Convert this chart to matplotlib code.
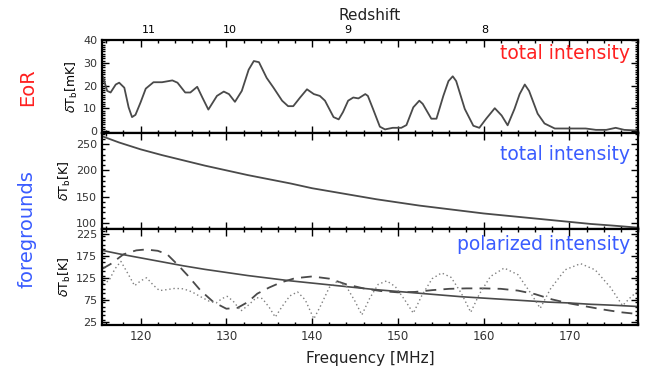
import numpy as np
import matplotlib.pyplot as plt
from matplotlib.ticker import MultipleLocator

plt.rcParams['font.family'] = ['DejaVu Sans']

# --- EoR signal (top panel) ---
eor_freq = [115.6, 116.1, 116.5, 117.1, 117.5, 118.1, 118.6, 119.0, 119.4, 120.0,
            120.6, 121.5, 122.5, 123.7, 124.3, 125.2, 125.8, 126.6, 127.2, 127.9,
            128.9, 129.7, 130.3, 131.0, 131.8, 132.6, 133.2, 133.8, 134.7, 135.5,
            136.5, 137.2, 137.8, 138.6, 139.4, 140.2, 140.9, 141.5, 142.5, 143.1,
            143.6, 144.2, 144.8, 145.4, 146.2, 146.5, 147.1, 147.9, 148.5, 149.4,
            150.4, 151.0, 151.8, 152.5, 152.9, 153.9, 154.5, 155.3, 155.9, 156.4,
            156.8, 157.8, 158.8, 159.5, 160.3, 161.3, 162.1, 162.8, 163.6, 164.2,
            164.8, 165.3, 166.3, 167.1, 168.3, 171.9, 173.1, 174.3, 175.4, 176.4, 178.0]
eor_dtb = [24.0, 17.7, 17.0, 20.5, 21.3, 19.1, 10.5, 6.2, 7.2, 12.7,
           18.7, 21.5, 21.5, 22.3, 21.3, 17.0, 17.0, 19.5, 14.8, 9.5,
           15.5, 17.4, 16.3, 12.9, 17.7, 27.0, 30.8, 30.3, 23.4, 19.1,
           13.4, 11.0, 11.0, 14.8, 18.4, 16.3, 15.5, 13.4, 6.2, 5.2,
           8.4, 13.4, 14.8, 14.4, 16.3, 15.5, 9.8, 2.0, 0.8, 1.5,
           1.5, 2.7, 10.5, 13.4, 12.0, 5.5, 5.5, 15.5, 22.0, 24.1,
           22.0, 9.8, 2.4, 1.5, 5.5, 10.1, 6.9, 2.6, 9.8, 16.3,
           20.5, 17.7, 7.7, 3.4, 1.2, 1.2, 0.6, 0.6, 1.5, 0.6, 0.3]

# --- foregrounds, total intensity (middle panel) ---
fg_freq = [115.5, 117.5, 120, 122.5, 125, 127.5, 130, 132.5, 135, 137.5, 140,
           142.5, 145, 147.5, 150, 152.5, 155, 157.5, 160, 162.5, 165, 167.5,
           170, 172.5, 175, 178]
fg_tot = [265, 253, 240, 229, 219, 209, 200, 191, 183, 175, 166,
          159, 152, 145, 139, 133, 128, 123, 118, 114, 110, 106,
          102, 98, 95, 91]

# --- foregrounds, polarized intensity (bottom panel) ---
pol_solid = [187, 179, 170, 161, 152, 144, 137, 130, 124, 118, 113,
             108, 103, 98, 94, 90, 86, 82, 79, 76, 73, 70,
             68, 65, 63, 60]

dash_freq = [115.5, 116.5, 118.0, 119.5, 120.6, 122.0, 123.1, 124.4, 125.5, 127.0,
             128.5, 130.0, 131.3, 132.5, 133.6, 135.0, 136.3, 138.0, 140.0, 142.0,
             144.0, 146.0, 148.0, 150.0, 152.0, 154.0, 156.0, 158.0, 160.0, 162.0,
             164.0, 166.0, 168.0, 170.0, 172.0, 174.0, 176.0, 178.0]
dash_val = [145, 156, 178, 187, 189, 186, 178, 153, 130, 96,
            70, 55, 57, 70, 89, 103, 114, 124, 128, 123,
            110, 101, 95, 92, 93, 97, 100, 101, 101, 100,
            96, 88, 76, 67, 60, 53, 47, 43]

dot_freq = [115.6, 116.3, 117.0, 117.7, 118.5, 119.3, 120.0, 120.7, 121.5, 122.2,
            123.0, 124.0, 125.0, 126.0, 127.0, 128.0, 128.8, 129.5, 130.1, 130.8,
            131.7, 132.5, 133.5, 134.2, 135.0, 135.7, 136.5, 137.4, 138.3, 139.2,
            140.2, 141.0, 142.0, 143.0, 144.0, 145.0, 145.8, 146.7, 147.7, 148.7,
            149.7, 150.8, 151.8, 152.8, 154.0, 155.1, 156.2, 157.4, 158.5, 159.5,
            160.8, 162.4, 164.0, 165.5, 166.6, 167.8, 169.5, 171.3, 173.0, 174.8,
            176.2, 177.2, 178.0]
dot_val = [112, 118, 145, 162, 135, 107, 118, 125, 108, 96,
           98, 101, 100, 93, 82, 72, 68, 78, 83, 72,
           50, 62, 80, 78, 58, 36, 60, 84, 93, 75,
           32, 62, 103, 118, 105, 72, 41, 78, 110, 118,
           105, 75, 45, 85, 123, 136, 126, 90, 47, 88,
           128, 147, 132, 90, 56, 100, 143, 157, 143, 103,
           62, 82, 95]

# redshift labels on the top axis
z_pos = [120.9, 130.4, 144.2, 160.1]
z_labels = ['11', '10', '9', '8']

fig = plt.figure(figsize=(6.54, 3.78), dpi=100)
left, right = 0.156, 0.9755
ax1 = fig.add_axes([left, 0.648, right - left, 0.894 - 0.648])
ax2 = fig.add_axes([left, 0.395, right - left, 0.648 - 0.395], sharex=ax1)
ax3 = fig.add_axes([left, 0.140, right - left, 0.395 - 0.140], sharex=ax1)

line_col = '#4a4a4a'
ax1.plot(eor_freq, eor_dtb, color=line_col, lw=1.3)
ax2.plot(fg_freq, fg_tot, color=line_col, lw=1.3)
ax3.plot(fg_freq, pol_solid, color=line_col, lw=1.2)
ax3.plot(dash_freq, dash_val, color=line_col, lw=1.3, ls=(0, (6, 4)))
ax3.plot(dot_freq, dot_val, color='#808080', lw=1.0, ls=(0, (1, 2)))

ax1.set_xlim(115.5, 178)
ax1.set_ylim(-0.8, 40)
ax2.set_ylim(89, 271)
ax3.set_ylim(18, 236)

ax1.yaxis.set_major_locator(MultipleLocator(10))
ax1.yaxis.set_minor_locator(MultipleLocator(1))
ax2.yaxis.set_major_locator(MultipleLocator(50))
ax2.yaxis.set_minor_locator(MultipleLocator(10))
ax3.set_yticks([25, 75, 125, 175, 225])
ax3.yaxis.set_minor_locator(MultipleLocator(10))

for ax in (ax1, ax2, ax3):
    ax.xaxis.set_major_locator(MultipleLocator(10))
    ax.xaxis.set_minor_locator(MultipleLocator(2))
    ax.tick_params(which='both', direction='in', top=True, right=True,
                   labelsize=8, labelcolor='#333333', width=1)
    ax.tick_params(which='major', length=5)
    ax.tick_params(which='minor', length=2.5)
    for s in ax.spines.values():
        s.set_linewidth(1.6)
    ax.set_ylabel(r'$\delta\mathrm{T_b}$[K]', fontsize=9, labelpad=2)
ax1.set_ylabel(r'$\delta\mathrm{T_b}$[mK]', fontsize=9, labelpad=2)
ax1.tick_params(labelbottom=False)
ax2.tick_params(labelbottom=False)
ax3.tick_params(axis='x', labelsize=8.5)
ax3.set_xlabel('Frequency [MHz]', fontsize=11, color='#222222', labelpad=6)

# redshift axis
sec = ax1.secondary_xaxis('top')
sec.set_xticks(z_pos)
sec.set_xticklabels(z_labels)
sec.tick_params(length=0, labelsize=8, pad=4)
sec.spines['top'].set_visible(False)
sec.set_xlabel('Redshift', fontsize=11, color='#222222', labelpad=3)

ax1.text(0.985, 0.86, 'total intensity', transform=ax1.transAxes, ha='right',
         va='center', color='#ff2020', fontsize=13.5)
ax2.text(0.985, 0.78, 'total intensity', transform=ax2.transAxes, ha='right',
         va='center', color='#3a5cff', fontsize=13.5)
ax3.text(0.985, 0.84, 'polarized intensity', transform=ax3.transAxes, ha='right',
         va='center', color='#3a5cff', fontsize=13.5)

fig.text(0.042, 0.77, 'EoR', rotation=90, ha='center', va='center',
         color='#ff2020', fontsize=14)
fig.text(0.042, 0.395, 'foregrounds', rotation=90, ha='center', va='center',
         color='#3a5cff', fontsize=14)

fig.savefig('out.png', dpi=100)
